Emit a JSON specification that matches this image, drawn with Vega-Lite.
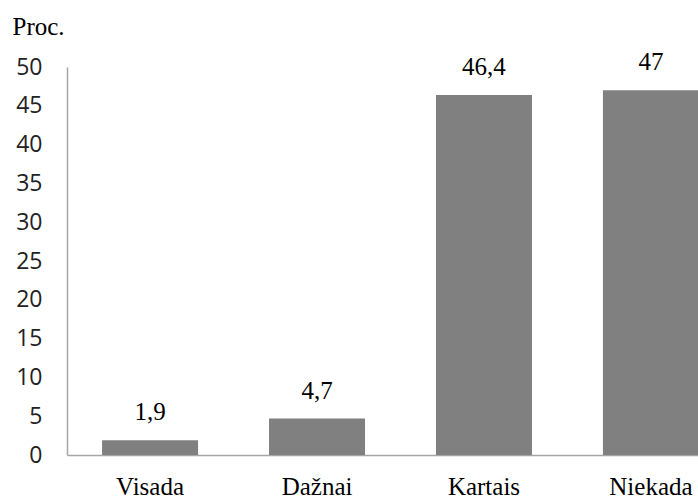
{
  "$schema": "https://vega.github.io/schema/vega-lite/v6.json",
  "autosize": {"type": "none"},
  "padding": {"left": 67, "top": 67, "right": 0, "bottom": 43},
  "width": 667,
  "height": 388,
  "background": "white",
  "data": {
    "values": [
      {"kategorija": "Visada", "proc": 1.9, "label": "1,9"},
      {"kategorija": "Dažnai", "proc": 4.7, "label": "4,7"},
      {"kategorija": "Kartais", "proc": 46.4, "label": "46,4"},
      {"kategorija": "Niekada", "proc": 47, "label": "47"}
    ]
  },
  "config": {"view": {"stroke": null}},
  "encoding": {
    "x": {
      "field": "kategorija",
      "type": "nominal",
      "sort": null,
      "scale": {"paddingInner": 0.425, "paddingOuter": 0.21},
      "axis": {
        "title": null,
        "labelAngle": 0,
        "labelFont": "Liberation Serif",
        "labelFontSize": 25,
        "labelColor": "#000000",
        "labelBaseline": "alphabetic",
        "labelPadding": 39,
        "ticks": false,
        "tickSize": 0,
        "domainColor": "#a6a6a6",
        "domainWidth": 1.5
      }
    },
    "y": {
      "field": "proc",
      "type": "quantitative",
      "scale": {"domain": [0, 50], "nice": false},
      "axis": {
        "values": [0, 5, 10, 15, 20, 25, 30, 35, 40, 45, 50],
        "grid": false,
        "ticks": false,
        "tickSize": 0,
        "labelPadding": 25,
        "labelFont": "Open Sans",
        "labelFontSize": 23,
        "labelColor": "#222222",
        "domainColor": "#a6a6a6",
        "domainWidth": 1.5,
        "title": "Proc.",
        "titleAngle": 0,
        "titleAlign": "left",
        "titleBaseline": "alphabetic",
        "titleX": -55,
        "titleY": -33,
        "titleFont": "Liberation Serif",
        "titleFontSize": 25,
        "titleFontWeight": "normal",
        "titleColor": "#000000"
      }
    }
  },
  "layer": [
    {"mark": {"type": "bar", "color": "#808080"}},
    {
      "mark": {"type": "text", "baseline": "middle", "dy": -28, "font": "Liberation Serif", "fontSize": 25, "color": "#000000"},
      "encoding": {"text": {"field": "label"}}
    }
  ]
}
